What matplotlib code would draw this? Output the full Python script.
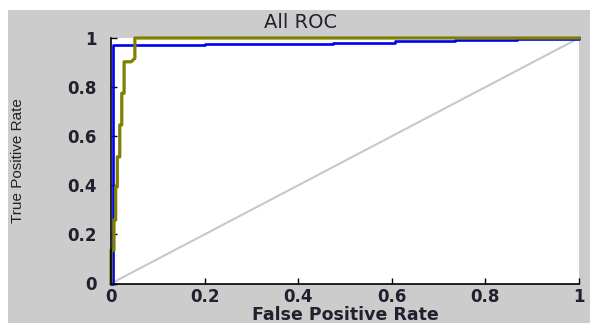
import matplotlib.pyplot as plt
from matplotlib.patches import Rectangle

# ROC curves
blue_fpr = [0, 0.004, 0.004, 0.20, 0.20, 0.474, 0.474, 0.607, 0.607, 0.736, 0.736, 0.867, 0.867, 1.0, 1.0]
blue_tpr = [0, 0, 0.971, 0.971, 0.975, 0.975, 0.980, 0.980, 0.986, 0.986, 0.991, 0.991, 0.995, 0.995, 1.0]

olive_fpr = [0, 0, 0.0064, 0.0064, 0.010, 0.010, 0.0135, 0.0135, 0.0187, 0.0187,
             0.023, 0.023, 0.028, 0.028, 0.043, 0.051, 0.051, 1.0]
olive_tpr = [0, 0.136, 0.136, 0.259, 0.259, 0.394, 0.394, 0.516, 0.516, 0.646,
             0.646, 0.775, 0.775, 0.903, 0.903, 0.917, 1.0, 1.0]

diag = [0, 1]
ticks = [0, 0.2, 0.4, 0.6, 0.8, 1]
tick_labels = ['0', '0.2', '0.4', '0.6', '0.8', '1']

txt_color = '#20202e'

fig = plt.figure(figsize=(5.9, 3.23), dpi=100, facecolor='white')
# grey figure panel (white strip on top and left)
panel = Rectangle((8 / 590, 0), 582 / 590, 313 / 323, transform=fig.transFigure,
                  facecolor='#cccccc', edgecolor='none', zorder=-10)
fig.add_artist(panel)

ax = fig.add_axes([111 / 590, 39.5 / 323, 468 / 590, 245.5 / 323])
ax.set_zorder(5)
ax.set_facecolor('white')

ax.plot(diag, diag, color='#c8c8c8', lw=1.5, clip_on=False)
ax.plot(blue_fpr, blue_tpr, color='#0000f0', lw=1.9, clip_on=False)
ax.plot(olive_fpr, olive_tpr, color='#808000', lw=2.3, clip_on=False)

ax.set_xlim(0, 1)
ax.set_ylim(0, 1)
ax.spines['top'].set_visible(False)
ax.spines['right'].set_visible(False)
ax.spines['left'].set_linewidth(1.2)
ax.spines['bottom'].set_linewidth(1.2)

ax.set_xticks(ticks)
ax.set_yticks(ticks)
ax.set_xticklabels(tick_labels, fontsize=12, fontweight='bold', color=txt_color)
ax.set_yticklabels(tick_labels, fontsize=12, fontweight='bold', color=txt_color)
ax.tick_params(direction='in', length=4, width=1, pad=3)
ax.tick_params(axis='y', pad=10)

ax.set_xlabel('False Positive Rate', fontsize=12.5, fontweight='bold', color=txt_color, labelpad=0)
ax.set_ylabel('True Positive Rate', fontsize=11, family='Liberation Sans', color=txt_color, labelpad=31)
fig.text(301 / 590, 1 - 23 / 323, 'All ROC', fontsize=14, color=txt_color, ha='center', va='center')

plt.savefig('out.png', dpi=100, facecolor=fig.get_facecolor())
